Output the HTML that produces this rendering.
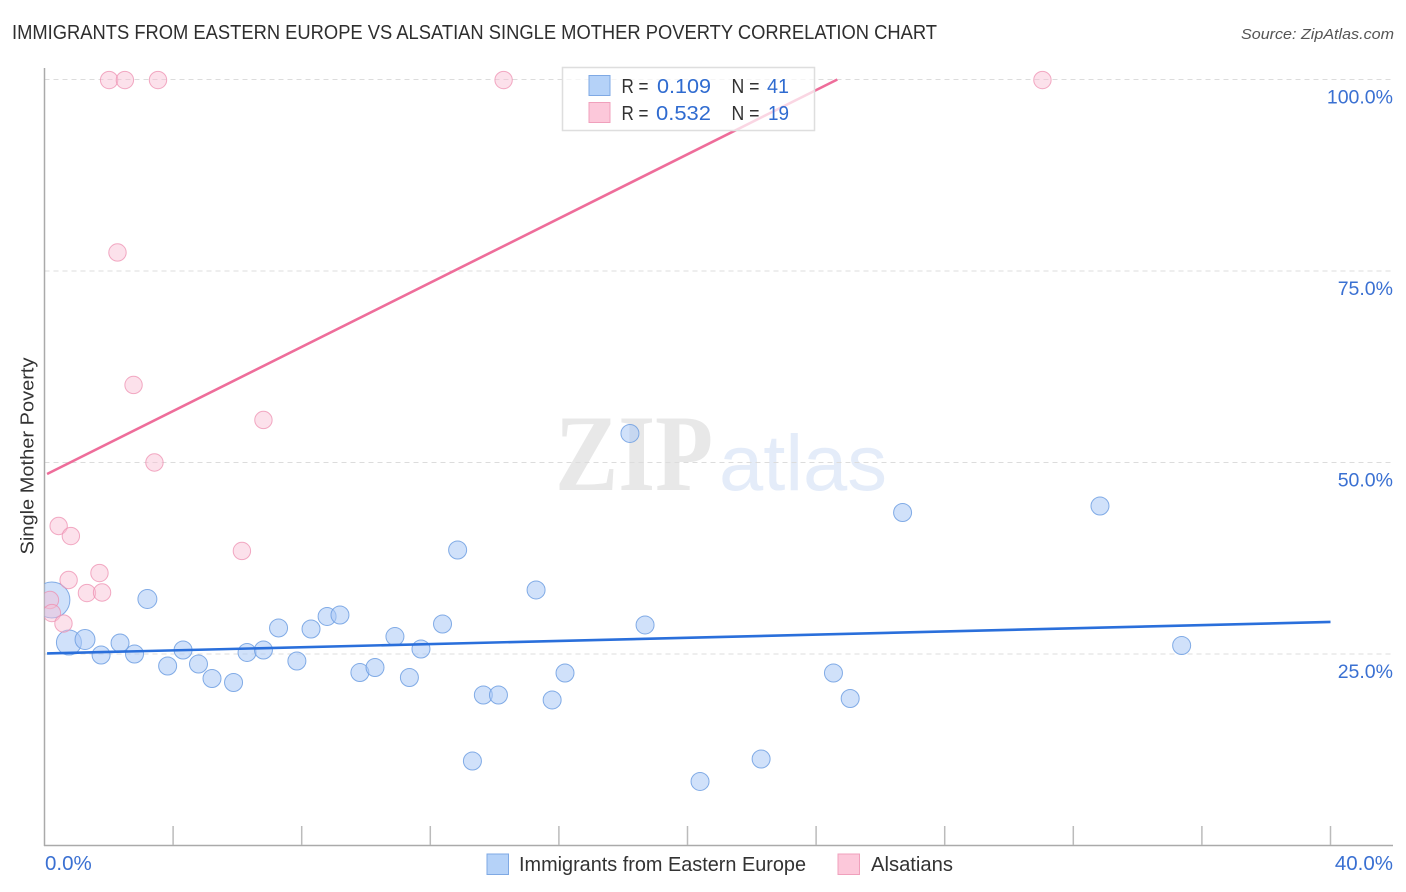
<!DOCTYPE html>
<html lang="en">
<head>
<meta charset="utf-8">
<title>Immigrants from Eastern Europe vs Alsatian Single Mother Poverty Correlation Chart</title>
<style>
html,body{margin:0;padding:0;background:#fff;width:1406px;height:892px;overflow:hidden}
svg{display:block;font-family:"Liberation Sans",sans-serif}
</style>
</head>
<body>
<svg id="chart" xmlns="http://www.w3.org/2000/svg" width="1406" height="892" viewBox="0 0 1406 892">
  <defs>
    <clipPath id="plot-clip"><rect x="44.5" y="60" width="1349" height="785"/></clipPath>
  </defs>
  <text x="12" y="39" font-size="20" fill="#2e2e2e" textLength="925" lengthAdjust="spacingAndGlyphs">IMMIGRANTS FROM EASTERN EUROPE VS ALSATIAN SINGLE MOTHER POVERTY CORRELATION CHART</text>
  <text x="1241" y="39" font-size="15" font-style="italic" fill="#555" textLength="153" lengthAdjust="spacingAndGlyphs">Source: ZipAtlas.com</text>
  <g>
    <text x="555" y="490" font-family="'Liberation Serif',serif" font-weight="bold" font-size="109" fill="#e8e8e8" textLength="158" lengthAdjust="spacingAndGlyphs">ZIP</text>
    <text x="719" y="490" font-size="79" fill="#e4ecf9" textLength="168" lengthAdjust="spacingAndGlyphs">atlas</text>
  </g>
  <g id="grid"></g>
  <g id="axes"></g>
  <text transform="translate(33.5,456) rotate(-90)" font-size="18.5" fill="#333" text-anchor="middle" textLength="197" lengthAdjust="spacingAndGlyphs">Single Mother Poverty</text>
  <g id="points" clip-path="url(#plot-clip)"></g>
  <g id="trends"></g>
  <g>
    <rect x="562.5" y="67.5" width="252" height="63" fill="#fff" fill-opacity="0.72" stroke="#dedede" stroke-width="1.5"/>
    <rect x="589" y="75.5" width="21" height="20" fill="#b5d2f8" stroke="#7fa9e4" stroke-width="1"/>
    <rect x="589" y="102.5" width="21" height="20" fill="#fcc8da" stroke="#f0a0bc" stroke-width="1"/>
    <g font-size="20">
      <text x="621.5" y="93" fill="#333" textLength="27" lengthAdjust="spacingAndGlyphs">R =</text>
      <text x="657" y="93" fill="#2f6bd0" textLength="54" lengthAdjust="spacingAndGlyphs">0.109</text>
      <text x="731.5" y="93" fill="#333" textLength="28" lengthAdjust="spacingAndGlyphs">N =</text>
      <text x="767" y="93" fill="#2f6bd0" textLength="22" lengthAdjust="spacingAndGlyphs">41</text>
      <text x="621.5" y="120" fill="#333" textLength="27" lengthAdjust="spacingAndGlyphs">R =</text>
      <text x="656" y="120" fill="#2f6bd0" textLength="55" lengthAdjust="spacingAndGlyphs">0.532</text>
      <text x="731.5" y="120" fill="#333" textLength="28" lengthAdjust="spacingAndGlyphs">N =</text>
      <text x="768" y="120" fill="#2f6bd0" textLength="21" lengthAdjust="spacingAndGlyphs">19</text>
    </g>
  </g>
  <g>
    <rect x="487" y="854" width="21.5" height="20.5" fill="#b5d2f8" stroke="#7fa9e4" stroke-width="1"/>
    <text x="519" y="871" font-size="20" fill="#333" textLength="287" lengthAdjust="spacingAndGlyphs">Immigrants from Eastern Europe</text>
    <rect x="838" y="854" width="21.5" height="20.5" fill="#fcc8da" stroke="#f0a0bc" stroke-width="1"/>
    <text x="871" y="871" font-size="20" fill="#333" textLength="82" lengthAdjust="spacingAndGlyphs">Alsatians</text>
  </g>
</svg>
<script>
const yTickValues = [25, 50, 75, 100];
const yTickLabels = ["25.0%", "50.0%", "75.0%", "100.0%"];
const xTickValues = [0, 4, 8, 12, 16, 20, 24, 28, 32, 36, 40];
const xEndTicks = [0, 40];
const xEndLabels = ["0.0%", "40.0%"];

const immigrantsX = [0.23,0.76,1.26,1.76,2.35,2.80,3.20,3.83,4.31,4.79,5.21,5.88,6.30,6.81,7.28,7.85,8.29,8.79,9.19,9.81,10.28,10.90,11.35,11.71,12.38,12.85,13.31,13.65,14.12,15.29,15.79,16.19,18.21,18.68,20.39,22.29,24.54,25.06,26.69,32.83,35.37];
const immigrantsY = [32.05,26.5,26.89,24.87,26.44,25.0,32.18,23.43,25.52,23.69,21.8,21.28,25.2,25.52,28.4,24.09,28.26,29.9,30.09,22.58,23.24,27.28,21.93,25.65,28.92,38.58,11.03,19.65,19.65,33.36,19.0,22.52,53.79,28.79,8.36,11.29,22.52,19.19,43.47,44.32,26.11];
const immigrantsWeight = [4,1.93,1.23,1,1,1,1.11,1,1,1,1,1,1,1,1,1,1,1,1,1,1,1,1,1,1,1,1,1,1,1,1,1,1,1,1,1,1,1,1,1,1];

const alsatiansX = [2.01,2.50,3.53,14.28,31.04,2.27,2.77,3.42,6.81,6.14,0.44,0.82,0.75,1.71,1.32,1.79,0.17,0.23,0.59];
const alsatiansY = [99.93,99.93,99.93,99.93,99.93,77.42,60.12,50,55.55,38.45,41.71,40.4,34.66,35.57,32.96,33.03,32.05,30.35,28.98];
const alsatiansWeight = [1,1,1,1,1,1,1,1,1,1,1,1,1,1,1,1,1,1,1];

const immigrantsTrendX = [0.08, 40];
const immigrantsTrendY = [25.07, 29.18];
const alsatiansTrendX = [0.08, 24.66];
const alsatiansTrendY = [48.5, 100];

const NS = "http://www.w3.org/2000/svg";
function xScale(v){ return 44.5 + v * 32.15; }
function yScale(v){ return 79.5 + (100 - v) * 7.66; }
function radius(w){ return 9 * Math.sqrt(w); }
function make(tag, attrs, parent){
  const el = document.createElementNS(NS, tag);
  for (const k in attrs) el.setAttribute(k, attrs[k]);
  parent.appendChild(el);
  return el;
}
const grid = document.getElementById("grid");
const axes = document.getElementById("axes");
const points = document.getElementById("points");
const trends = document.getElementById("trends");

yTickValues.forEach(function(v, i){
  const line = make("line", {x1:44.5, x2:1393, y1:yScale(v), y2:yScale(v), stroke:"#dcdcdc", "stroke-width":1, "stroke-dasharray":"5 4"}, grid);
  
  
  const label = make("text", {x:1393, y:yScale(v)+24, "text-anchor":"end", "font-size":19.5, fill:"#3a70d2"}, axes);
  label.textContent = yTickLabels[i];
  
  
});

const yAxis = make("line", {x1:44.5, x2:44.5, y1:68, y2:846, stroke:"#aaaaaa", "stroke-width":1.5}, axes);


const xAxis = make("line", {x1:44, x2:1393, y1:845.5, y2:845.5, stroke:"#aaaaaa", "stroke-width":1.5}, axes);



xTickValues.forEach(function(v){
  if (v === 0) return;
  const tick = make("line", {x1:xScale(v), x2:xScale(v), y1:826, y2:845, stroke:"#bbbbbb", "stroke-width":1.5}, axes);
  
  
});

xEndTicks.forEach(function(v, i){
  const label = make("text", {x: i === 0 ? xScale(v) + 0.5 : 1393, y:870, "text-anchor": i === 0 ? "start" : "end", "font-size":20.5, fill:"#3a70d2"}, axes);
  label.textContent = xEndLabels[i];
  
  
});

immigrantsX.forEach(function(v, i){
  const dot = make("circle", {cx:xScale(v), cy:yScale(immigrantsY[i]), r:radius(immigrantsWeight[i]), fill:"#a9c9f5", "fill-opacity":0.55, stroke:"#6f9fe2", "stroke-opacity":0.85, "stroke-width":1}, points);
  
  
});
alsatiansX.forEach(function(v, i){
  const dot = make("circle", {cx:xScale(v), cy:yScale(alsatiansY[i]), r:radius(alsatiansWeight[i]) - 0.3, fill:"#f9bdd2", "fill-opacity":0.45, stroke:"#ee8fb0", "stroke-opacity":0.75, "stroke-width":1}, points);
  
  
});

const trendBlue = make("line", {x1:xScale(immigrantsTrendX[0]), y1:yScale(immigrantsTrendY[0]), x2:xScale(immigrantsTrendX[1]), y2:yScale(immigrantsTrendY[1]), stroke:"#2a6fdb", "stroke-width":2.6}, trends);


const trendPink = make("line", {x1:xScale(alsatiansTrendX[0]), y1:yScale(alsatiansTrendY[0]), x2:xScale(alsatiansTrendX[1]), y2:yScale(alsatiansTrendY[1]), stroke:"#ee6d9a", "stroke-width":2.6}, trends);


</script>
</body>
</html>
